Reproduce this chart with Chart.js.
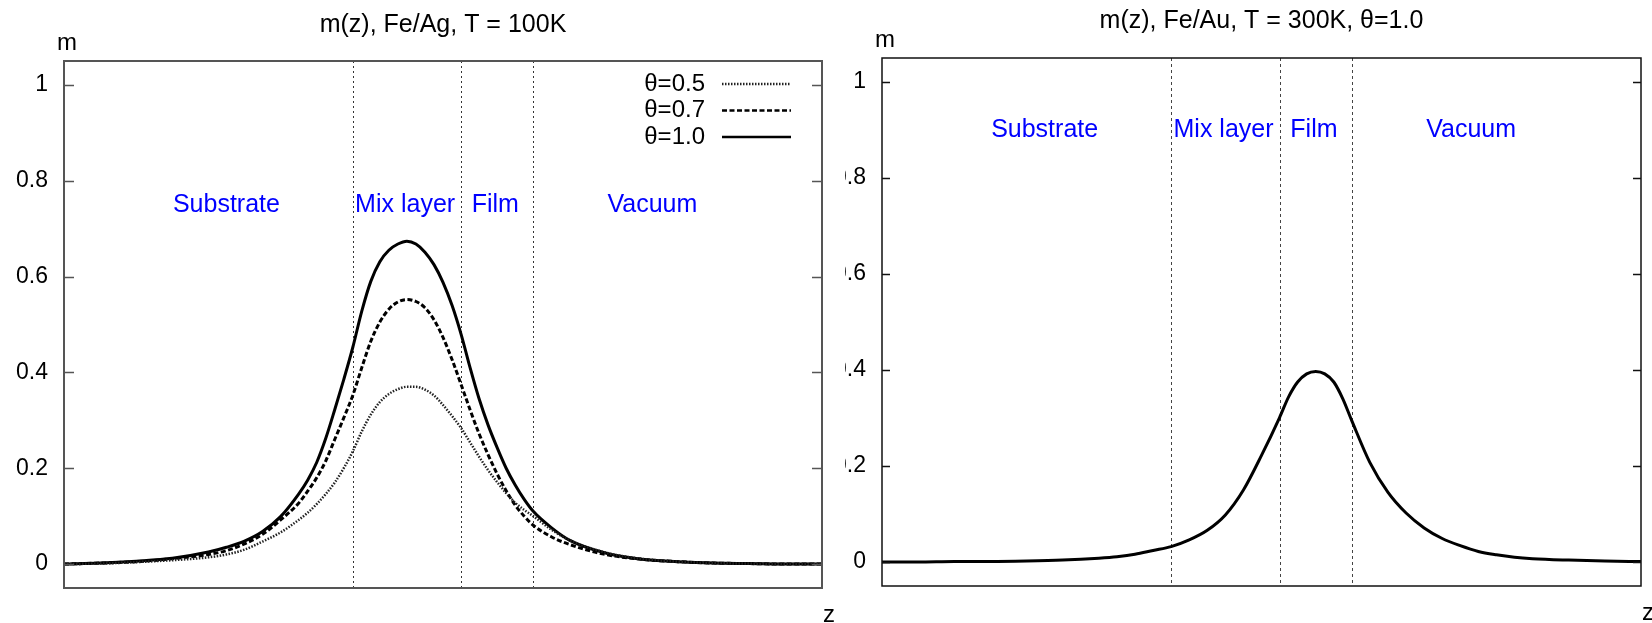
<!DOCTYPE html>
<html>
<head>
<meta charset="utf-8">
<script src="https://cdn.jsdelivr.net/npm/chart.js@4.4.1/dist/chart.umd.min.js"></script>
<style>
  html, body { margin: 0; padding: 0; background: #fff; }
  body { width: 1652px; height: 623px; position: relative; overflow: hidden; }
  #leftBox { position: absolute; left: 0; top: 0; width: 840px; height: 623px; }
  #rightBox { position: absolute; left: 845px; top: 0; width: 807px; height: 623px; overflow: hidden; }
  #rightBox canvas { position: absolute; left: -43px; top: 0; }
</style>
</head>
<body>
<div id="leftBox"><canvas id="chartAg" width="840" height="623"></canvas></div>
<div id="rightBox"><canvas id="chartAu" width="852" height="623"></canvas></div>
<script>
const FONT = '"Liberation Sans", Arial, sans-serif'

// z in layer units (substrate 0-8, mix layer 8-11, film 11-13, vacuum 13-21), m
const zAg = [0, 1, 2, 3, 4, 4.5, 5, 5.5, 6, 6.5, 6.75, 7, 7.25, 7.5, 7.75, 8, 8.25, 8.5, 8.75, 9, 9.25, 9.5, 9.75, 10, 10.25, 10.5, 10.75, 11, 11.25, 11.5, 11.75, 12, 12.25, 12.5, 12.75, 13, 13.5, 14, 15, 16, 17, 18, 19, 20, 21]
const mAg05 = [0, 0.001, 0.004, 0.008, 0.014, 0.02, 0.03, 0.047, 0.066, 0.092, 0.107, 0.125, 0.146, 0.17, 0.2, 0.235, 0.277, 0.312, 0.338, 0.355, 0.365, 0.37, 0.37, 0.364, 0.352, 0.332, 0.309, 0.284, 0.254, 0.224, 0.196, 0.171, 0.148, 0.128, 0.113, 0.1, 0.072, 0.05, 0.024, 0.011, 0.005, 0.002, 0.001, 0, 0]
const mAg07 = [0, 0.002, 0.005, 0.011, 0.02, 0.028, 0.042, 0.062, 0.092, 0.127, 0.152, 0.18, 0.215, 0.26, 0.305, 0.352, 0.41, 0.465, 0.505, 0.532, 0.547, 0.552, 0.548, 0.535, 0.51, 0.473, 0.427, 0.375, 0.322, 0.272, 0.228, 0.188, 0.153, 0.123, 0.1, 0.081, 0.057, 0.041, 0.02, 0.01, 0.005, 0.002, 0.001, 0, 0]
const mAg10 = [0, 0.002, 0.006, 0.012, 0.025, 0.035, 0.048, 0.068, 0.099, 0.146, 0.175, 0.212, 0.262, 0.322, 0.385, 0.452, 0.528, 0.59, 0.631, 0.655, 0.668, 0.674, 0.668, 0.651, 0.625, 0.588, 0.54, 0.48, 0.41, 0.345, 0.29, 0.243, 0.2, 0.165, 0.135, 0.11, 0.076, 0.05, 0.023, 0.01, 0.005, 0.002, 0.001, 0, 0]

const zAu = [0, 1, 2, 3, 4, 5, 6, 6.5, 7, 7.5, 8, 8.5, 9, 9.5, 10, 10.5, 11, 11.25, 11.5, 11.75, 12, 12.25, 12.5, 12.75, 13, 13.5, 14, 14.5, 15, 15.5, 16, 16.5, 17, 17.5, 18, 19, 20, 21]
const mAu10 = [0, 0, 0.001, 0.001, 0.002, 0.004, 0.008, 0.011, 0.016, 0.024, 0.032, 0.046, 0.066, 0.098, 0.15, 0.222, 0.301, 0.344, 0.375, 0.392, 0.397, 0.392, 0.375, 0.34, 0.294, 0.207, 0.145, 0.102, 0.071, 0.049, 0.034, 0.022, 0.015, 0.01, 0.007, 0.004, 0.002, 0.001]

const yTicks = [0, 0.2, 0.4, 0.6, 0.8, 1]
const layerBounds = [8, 11, 13]
const layerNames = ['Substrate', 'Mix layer', 'Film', 'Vacuum']
const layerNameZ = [4.5, 9.45, 11.95, 16.3]

function points(z, m) {
    return z.map((v, i) => ({ x: v, y: m[i] }))
}

const gpPlugin = {
    id: 'gp',
    beforeDatasetsDraw(chart, args, o) {
        const { ctx, chartArea: a, scales: { x, y } } = chart
        ctx.save()
        // layer boundaries
        ctx.strokeStyle = o.boundColor
        ctx.lineWidth = 1
        ctx.setLineDash(o.boundDash)
        layerBounds.forEach(z => {
            const px = Math.round(x.getPixelForValue(z)) + 0.5
            ctx.beginPath()
            ctx.moveTo(px, a.top)
            ctx.lineTo(px, a.bottom)
            ctx.stroke()
        })
        ctx.setLineDash([])
        // layer names
        ctx.fillStyle = '#0000ff'
        ctx.font = '25px ' + FONT
        ctx.textAlign = 'center'
        ctx.textBaseline = 'middle'
        layerNames.forEach((n, i) => {
            ctx.fillText(n, x.getPixelForValue(layerNameZ[i]), y.getPixelForValue(o.nameM))
        })
        ctx.restore()
    },
    afterDatasetsDraw(chart, args, o) {
        const { ctx, chartArea: a, scales: { y } } = chart
        ctx.save()
        // frame
        ctx.strokeStyle = o.frameColor
        ctx.lineWidth = o.frameWidth
        ctx.strokeRect(a.left, a.top, a.right - a.left, a.bottom - a.top)
        // inward ticks on both sides
        ctx.lineWidth = 1.5
        y.ticks.forEach(t => {
            const py = Math.round(y.getPixelForValue(t.value)) + 0.5
            ctx.beginPath()
            ctx.moveTo(a.left, py)
            ctx.lineTo(a.left + o.tickLen, py)
            ctx.moveTo(a.right, py)
            ctx.lineTo(a.right - o.tickLen, py)
            ctx.stroke()
        })
        // axis letters
        ctx.fillStyle = '#000'
        ctx.font = '24px ' + FONT
        ctx.textAlign = 'center'
        ctx.textBaseline = 'middle'
        ctx.fillText('m', a.left + 3, a.top - 18)
        ctx.fillText('z', a.right + 7, a.bottom + 27)
        // gnuplot style key: text then sample line
        if (o.legend) {
            chart.data.datasets.forEach((ds, i) => {
                const ly = a.top + 23 + i * 26.5
                ctx.fillStyle = '#000'
                ctx.textAlign = 'right'
                ctx.fillText(ds.label, a.right - 117, ly)
                ctx.strokeStyle = ds.borderColor
                ctx.lineWidth = Math.min(ds.borderWidth, 2.5)
                ctx.setLineDash(ds.borderDash || [])
                ctx.beginPath()
                ctx.moveTo(a.right - 100, ly)
                ctx.lineTo(a.right - 31, ly)
                ctx.stroke()
            })
            ctx.setLineDash([])
        }
        ctx.restore()
    }
}

function makeChart(id, o) {
    return new Chart(document.getElementById(id).getContext('2d'), {
        type: 'line',
        data: { datasets: o.datasets },
        options: {
            responsive: false,
            animation: false,
            events: [],
            layout: { padding: { left: 0, right: o.padRight, top: 0, bottom: o.padBottom } },
            elements: { point: { radius: 0 }, line: { cubicInterpolationMode: 'monotone' } },
            plugins: {
                legend: { display: false },
                tooltip: { enabled: false },
                title: {
                    display: true,
                    text: o.title,
                    fullSize: false,
                    color: '#000',
                    font: { family: FONT, size: 25, weight: 'normal' },
                    padding: { top: o.titleTop, bottom: o.titleBottom }
                },
                gp: o.gp
            },
            scales: {
                x: { type: 'linear', min: 0, max: 21, display: false },
                y: {
                    type: 'linear',
                    min: -0.05,
                    max: 1.05,
                    afterFit: s => { s.width = o.axisWidth },
                    afterBuildTicks: s => { s.ticks = yTicks.map(v => ({ value: v })) },
                    grid: { display: false, drawTicks: false },
                    border: { display: false },
                    ticks: {
                        padding: 16,
                        color: '#000',
                        font: { family: FONT, size: 23 },
                        callback: v => String(v)
                    }
                }
            }
        },
        plugins: [gpPlugin]
    })
}

const chartAg = makeChart('chartAg', {
    title: 'm(z), Fe/Ag, T = 100K',
    titleTop: 10,
    titleBottom: 21,
    axisWidth: 64,
    padRight: 18,
    padBottom: 35,
    datasets: [
        { label: 'θ=0.5', data: points(zAg, mAg05), borderColor: '#222', borderWidth: 2.5, borderDash: [1.5, 1.5] },
        { label: 'θ=0.7', data: points(zAg, mAg07), borderColor: '#000', borderWidth: 3, borderDash: [5, 2.5] },
        { label: 'θ=1.0', data: points(zAg, mAg10), borderColor: '#000', borderWidth: 3 }
    ],
    gp: { boundColor: '#333', boundDash: [2, 3], nameM: 0.75, frameColor: '#555', frameWidth: 2, tickLen: 10, legend: true }
})

const chartAu = makeChart('chartAu', {
    title: 'm(z), Fe/Au, T = 300K, θ=1.0',
    titleTop: 6,
    titleBottom: 22,
    axisWidth: 80,
    padRight: 13,
    padBottom: 37,
    datasets: [
        { label: 'θ=1.0', data: points(zAu, mAu10), borderColor: '#000', borderWidth: 3 }
    ],
    gp: { boundColor: '#444', boundDash: [3, 3], nameM: 0.9, frameColor: '#111', frameWidth: 1.5, tickLen: 8, legend: false }
})
</script>
</body>
</html>
